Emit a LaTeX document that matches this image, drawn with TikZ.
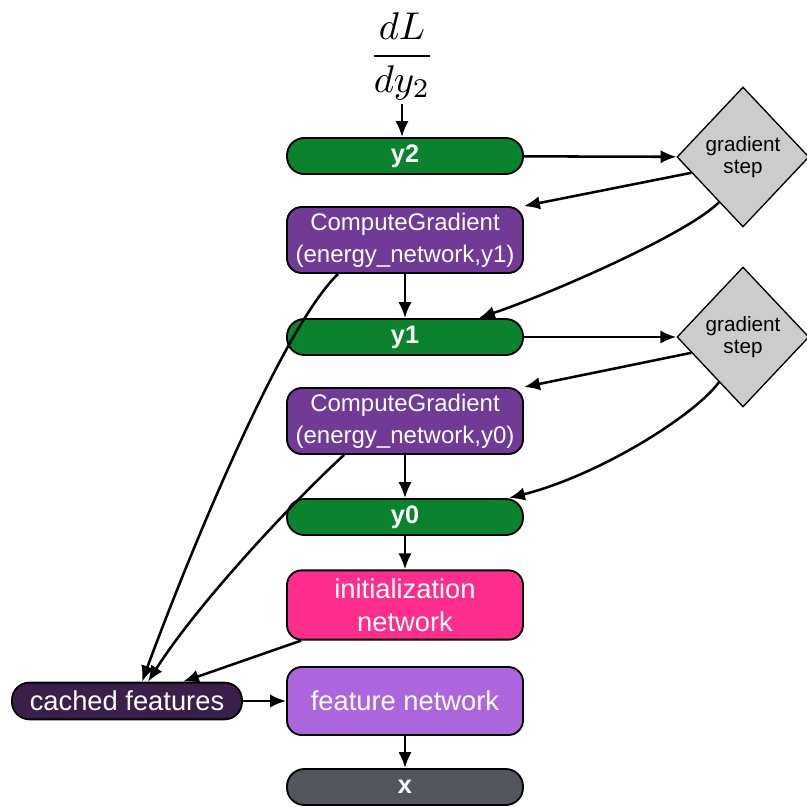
\documentclass[tikz,border=0pt]{standalone}
\usepackage{amsmath}
\usepackage{graphicx}
\usepackage{fontspec}
\setmainfont{Liberation Sans}
\usetikzlibrary{arrows.meta,positioning,calc,shapes.geometric}
\definecolor{ygreen}{RGB}{10,130,46}
\definecolor{gradpurple}{RGB}{112,58,150}
\definecolor{initpink}{RGB}{255,45,139}
\definecolor{featpurple}{RGB}{173,101,222}
\definecolor{cachepurple}{RGB}{59,31,75}
\definecolor{xgray}{RGB}{83,87,93}
\definecolor{stepgray}{RGB}{204,204,204}

\begin{document}
\begin{tikzpicture}[x=0.75pt,y=-0.75pt,>={Latex[length=12pt,width=10pt]},
  box/.style={draw=black,line width=1.4pt,rounded corners=11pt,minimum width=177pt,
    align=center,inner sep=2pt,text=white,font=\fontsize{18}{24}\selectfont},
  pill/.style={box,rounded corners=13pt,minimum height=27pt,font=\fontsize{19}{22}\selectfont\bfseries},
  gstep/.style={diamond,draw=black,line width=1pt,fill=stepgray,minimum width=99pt,
    minimum height=105pt,inner sep=0pt,align=center,font=\fontsize{15.5}{17}\selectfont},
  link/.style={->,line width=1.9pt}]
  \useasboundingbox (0,0) rectangle (807,807);
  \node (frac) at (402,56) {\scalebox{2.9}{$\dfrac{dL}{dy_2}$}};
  \node[pill,fill=ygreen] (y2) at (405,156) {y2};
  \node[box,fill=gradpurple,minimum height=49.5pt] (cg1) at (405,240) {ComputeGradient\\(energy\_network,y1)};
  \node[pill,fill=ygreen] (y1) at (405,337) {y1};
  \node[box,fill=gradpurple,minimum height=49.5pt] (cg0) at (405,421) {ComputeGradient\\(energy\_network,y0)};
  \node[pill,fill=ygreen] (y0) at (405,517) {y0};
  \node[box,fill=initpink,minimum height=52pt,font=\fontsize{20.5}{25}\selectfont] (init) at (405,605) {initialization\\network};
  \node[box,fill=featpurple,minimum height=51pt,font=\fontsize{20.5}{25}\selectfont] (feat) at (405,701) {feature network};
  \node[pill,fill=xgray] (x) at (405,787) {x};
  \node[box,fill=cachepurple,rounded corners=13pt,minimum width=172.5pt,minimum height=27.5pt,
    font=\fontsize{20.5}{25}\selectfont] (cached) at (127,701) {cached features};
  \node[gstep] (g1) at (743,157) {gradient\\step};
  \node[gstep] (g0) at (743,337) {gradient\\step};

  \draw[link] (frac) -- (frac |- y2.north);
  \draw[link] (y2) -- (g1);
  \draw[link] (g1.197) -- (cg1.north east);
  \draw[link] (g1.242) .. controls (690,232) and (560,290) .. ($(y1.north east)+(-45,0)$);
  \draw[link] (cg1) -- (y1);
  \draw[link] ($(cg1.south west)+(52,0)$) .. controls (280,330) and (185,565) .. ($(cached.north)+(15,0)$);
  \draw[link] (y1) -- (g0);
  \draw[link] (g0.197) -- (cg0.north east);
  \draw[link] (g0.242) .. controls (695,415) and (600,475) .. ($(y0.north east)+(-15,0)$);
  \draw[link] (cg0) -- (y0);
  \draw[link] ($(cg0.south west)+(58,0)$) .. controls (300,495) and (200,600) .. ($(cached.north)+(21,0)$);
  \draw[link] (y0) -- (init);
  \draw[link] ($(init.south west)+(15,0)$) -- ($(cached.north east)+(-60,0)$);
  \draw[link] (cached) -- (feat);
  \draw[link] (feat) -- (x);
\end{tikzpicture}
\end{document}
